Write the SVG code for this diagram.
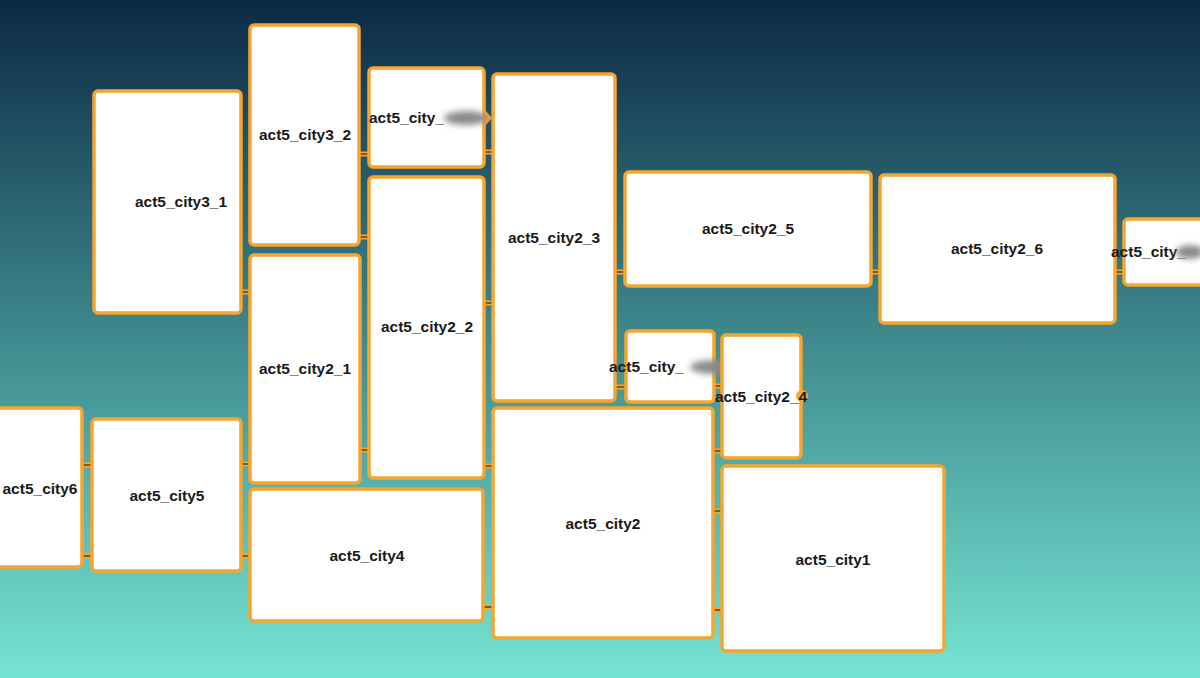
<svg xmlns="http://www.w3.org/2000/svg" width="1200" height="678" viewBox="0 0 1200 678">
<defs>
<linearGradient id="bg" x1="0" y1="0" x2="0" y2="1">
<stop offset="0" stop-color="#0c2946"/>
<stop offset="0.5" stop-color="#3f8a8e"/>
<stop offset="1" stop-color="#76e4d3"/>
</linearGradient>
<filter id="blur" x="-50%" y="-100%" width="200%" height="300%"><feGaussianBlur stdDeviation="3"/></filter>
</defs>
<style>
.box{fill:#ffffff;stroke:#f8a52e;stroke-width:3.5}
.lbl{font-family:"Liberation Sans",Arial,sans-serif;font-weight:bold;font-size:15.5px;fill:#1a1a1a;text-anchor:middle}
.lbl-l{font-family:"Liberation Sans",Arial,sans-serif;font-weight:bold;font-size:15.5px;fill:#1a1a1a;text-anchor:start}
.c-o{stroke:#f8a52e;stroke-width:5;fill:none}
.c-i{stroke:#6b3a12;stroke-width:1.5;fill:none}
.smudge{fill:#8a8a8a;filter:url(#blur)}
.bump{fill:#f8a52e}
</style>
<rect width="1200" height="678" fill="url(#bg)"/>
<g id="connectors">
<g class="c-o">
<path d="M240 292H251M358 154H370M358 237H370M483 152H494M483 303H494M359 450H370M482 466H494M482 607H494M240 464H251M240 556H251M81 465H93M81 556H93M614 272H626M870 272H881M1114 272H1125M614 387H627M713 386H723M712 451H723M712 511H723M712 610H723"/>
</g>
<g class="c-i">
<path d="M240 292H251M358 154H370M358 237H370M483 152H494M483 303H494M359 450H370M482 466H494M482 607H494M240 464H251M240 556H251M81 465H93M81 556H93M614 272H626M870 272H881M1114 272H1125M614 387H627M713 386H723M712 451H723M712 511H723M712 610H723"/>
</g>
</g>
<g id="act5_city3_1"><rect class="box" x="94" y="91" width="147" height="222" rx="4"/><text class="lbl" x="181" y="207">act5_city3_1</text></g>
<g id="act5_city3_2"><rect class="box" x="250" y="25" width="109" height="220" rx="4"/><text class="lbl" x="305" y="140">act5_city3_2</text></g>
<g id="act5_city_top"><rect class="box" x="369" y="68" width="115" height="99" rx="4"/><path class="bump" d="M483 108L492 118L483 128Z"/><text class="lbl-l" x="369" y="123">act5_city_</text><ellipse class="smudge" cx="466" cy="118" rx="22" ry="7"/></g>
<g id="act5_city2_1"><rect class="box" x="250" y="255" width="110" height="228" rx="4"/><text class="lbl" x="305" y="374">act5_city2_1</text></g>
<g id="act5_city2_2"><rect class="box" x="369" y="177" width="115" height="301" rx="4"/><text class="lbl" x="427" y="332">act5_city2_2</text></g>
<g id="act5_city2_3"><rect class="box" x="493" y="74" width="122" height="327" rx="4"/><text class="lbl" x="554" y="243">act5_city2_3</text></g>
<g id="act5_city2_5"><rect class="box" x="625" y="172" width="246" height="114" rx="4"/><text class="lbl" x="748" y="234">act5_city2_5</text></g>
<g id="act5_city2_6"><rect class="box" x="880" y="175" width="235" height="148" rx="4"/><text class="lbl" x="997" y="254">act5_city2_6</text></g>
<g id="act5_city_right"><rect class="box" x="1124" y="219" width="82" height="66" rx="4"/><text class="lbl-l" x="1111" y="257">act5_city_</text><ellipse class="smudge" cx="1190" cy="252" rx="14" ry="7"/></g>
<g id="act5_city_mid"><rect class="box" x="626" y="331" width="88" height="71" rx="4"/><text class="lbl-l" x="609" y="372">act5_city_</text><ellipse class="smudge" cx="714" cy="367" rx="24" ry="7"/></g>
<g id="act5_city2_4"><rect class="box" x="722" y="335" width="79" height="123" rx="4"/><circle class="bump" cx="802" cy="396" r="6"/><text class="lbl-l" x="715" y="402">act5_city2_4</text></g>
<g id="act5_city6"><rect class="box" x="-10" y="408" width="92" height="159" rx="4"/><text class="lbl" x="40" y="494">act5_city6</text></g>
<g id="act5_city5"><rect class="box" x="92" y="419" width="149" height="152" rx="4"/><text class="lbl" x="167" y="501">act5_city5</text></g>
<g id="act5_city4"><rect class="box" x="250" y="489" width="233" height="132" rx="4"/><text class="lbl" x="367" y="561">act5_city4</text></g>
<g id="act5_city2"><rect class="box" x="493" y="408" width="220" height="230" rx="4"/><text class="lbl" x="603" y="529">act5_city2</text></g>
<g id="act5_city1"><rect class="box" x="722" y="466" width="222" height="185" rx="4"/><text class="lbl" x="833" y="565">act5_city1</text></g>
</svg>
